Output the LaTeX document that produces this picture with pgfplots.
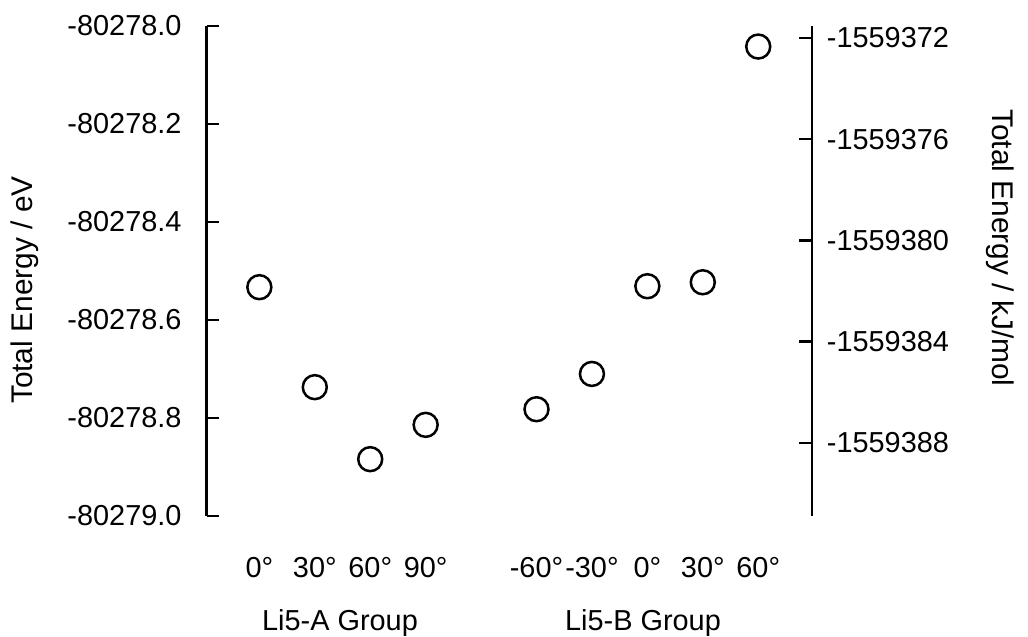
\documentclass[border=0pt]{standalone}
\usepackage{fontspec}
\setmainfont{Liberation Sans}
\usepackage{pgfplots}
\pgfplotsset{compat=1.18}
\begin{document}
\begin{tikzpicture}[font=\fontsize{29}{35}\selectfont]
\begin{axis}[
  at={(206.7bp,121bp)}, anchor=south west,
  width=605.3bp, height=490bp, scale only axis,
  xmin=-0.95, xmax=9.97,
  ymin=-80279, ymax=-80278,
  axis y line*=left, axis x line*=bottom,
  x axis line style={draw=none},
  y axis line style={line width=2.5bp, -},
  xtick={0,1,2,3,5,6,7,8,9},
  xticklabels={0°,30°,60°,90°,-60°,-30°,0°,30°,60°},
  xtick style={draw=none},
  ytick={-80279,-80278.8,-80278.6,-80278.4,-80278.2,-80278},
  yticklabels={-80279.0,-80278.8,-80278.6,-80278.4,-80278.2,-80278.0},
  ytick style={line width=2.5bp, black},
  tick align=inside, major tick length=12bp,
  yticklabel style={inner sep=0pt, xshift=-25bp},
  xticklabel style={anchor=base, inner sep=0pt, yshift=-61bp},
  scaled y ticks=false,
  clip=false,
]
\addplot[only marks, mark=o, mark size=12bp, mark options={line width=2.5bp}, black] coordinates {
  (0,-80278.533) (1,-80278.737) (2,-80278.884) (3,-80278.814)
  (5,-80278.782) (6,-80278.710) (7,-80278.531) (8,-80278.523) (9,-80278.042)
};
\node[rotate=90, anchor=center, font=\fontsize{30}{36}\selectfont] at (rel axis cs:-0.300,0.461) {Total Energy / eV};
\node[rotate=-90, anchor=center, font=\fontsize{30}{36}\selectfont] at (rel axis cs:1.3106,0.547) {Total Energy / kJ/mol};
\node[anchor=base] at (rel axis cs:0.2202,-0.2327) {Li5-A Group};
\node[anchor=base] at (rel axis cs:0.7208,-0.2327) {Li5-B Group};
\end{axis}
% right axis: values shown relative to -1559380 kJ/mol, labelled in full
\begin{axis}[
  at={(206.7bp,121bp)}, anchor=south west,
  width=605.3bp, height=490bp, scale only axis,
  xmin=-0.95, xmax=9.97,
  ymin=-10.885, ymax=8.474,
  axis y line*=right, axis x line=none,
  y axis line style={line width=2.5bp, -},
  ytick={-8,-4,0,4,8},
  yticklabels={-1559388,-1559384,-1559380,-1559376,-1559372},
  ytick style={line width=2.5bp, black},
  tick align=inside, major tick length=13bp,
  yticklabel style={inner sep=0pt, xshift=14.7bp},
  clip=false,
]
\addplot[draw=none, forget plot] coordinates {(0,0)};
\end{axis}
\pgfresetboundingbox
\path[use as bounding box] (0,0) rectangle (1028bp,637bp);
\end{tikzpicture}
\end{document}
